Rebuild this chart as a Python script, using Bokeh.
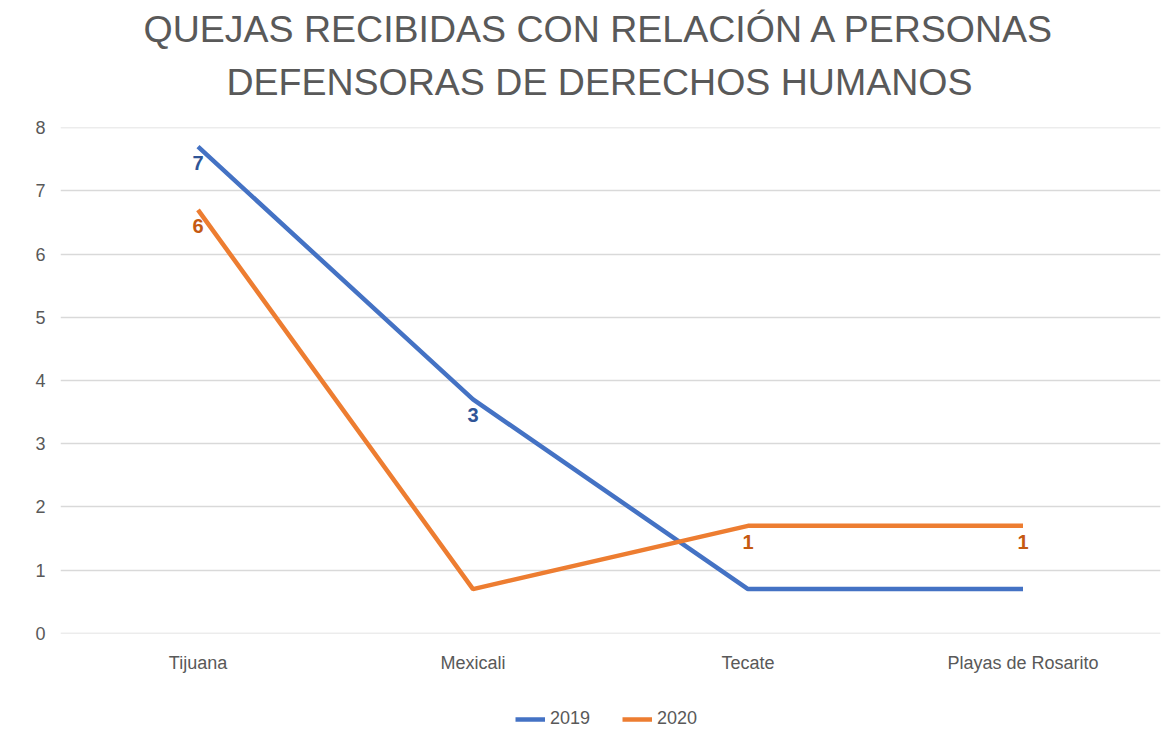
from bokeh.plotting import figure
from bokeh.models import ColumnDataSource, Legend, LegendItem, Range1d, FixedTicker, Title
from bokeh.layouts import column
from bokeh.embed import file_html
from bokeh.resources import INLINE
from bokeh.core.properties import value

# Data
categories = ["Tijuana", "Mexicali", "Tecate", "Playas de Rosarito"]
series_2019 = [7.7, 3.7, 0.7, 0.7]
series_2020 = [6.7, 0.7, 1.7, 1.7]
labels_2019 = ["7", "3", "", ""]
labels_2020 = ["6", "", "1", "1"]
series_names = ["2019", "2020"]
y_ticks = [0, 1, 2, 3, 4, 5, 6, 7, 8]
title_line1 = "QUEJAS RECIBIDAS CON RELACIÓN A PERSONAS"
title_line2 = "DEFENSORAS DE DERECHOS HUMANOS"

FONT = "Liberation Sans"
GRAY = "#595959"
BLUE = "#4472C4"
ORANGE = "#ED7D31"

FW, FH = 1100, 506
p = figure(x_range=categories, y_range=Range1d(-0.003, 8.003),
           frame_width=FW, frame_height=FH,
           output_backend="svg", toolbar_location=None,
           min_border_left=60, min_border_right=4, min_border_top=127, min_border_bottom=50)
p.title = None

t2 = Title(text=title_line2, align="left", text_font=FONT, text_font_size="37.5px",
           text_color=GRAY, text_font_style="normal", standoff=50, padding=0,
           text_line_height=1.0, offset=166)
t1 = Title(text=title_line1, align="left", text_font=FONT, text_font_size="37.5px",
           text_color=GRAY, text_font_style="normal", standoff=-32, padding=0,
           text_line_height=1.0, offset=83)
p.add_layout(t2, "above")
p.add_layout(t1, "above")

p.outline_line_color = None
p.background_fill_color = "white"
p.border_fill_color = "white"

src19 = ColumnDataSource(dict(x=categories, y=series_2019, t=labels_2019))
src20 = ColumnDataSource(dict(x=categories, y=series_2020, t=labels_2020))

p.line("x", "y", source=src19, line_color=BLUE, line_width=4.5)
p.line("x", "y", source=src20, line_color=ORANGE, line_width=4.5)

p.text("x", "y", text="t", source=src19, text_align="center", text_baseline="middle",
       y_offset=16, text_font=value(FONT), text_font_size="20px", text_font_style="bold",
       text_color="#2F5597")
p.text("x", "y", text="t", source=src20, text_align="center", text_baseline="middle",
       y_offset=16, text_font=value(FONT), text_font_size="20px", text_font_style="bold",
       text_color="#C55A11")

p.yaxis.ticker = FixedTicker(ticks=y_ticks)
for ax in (p.xaxis[0], p.yaxis[0]):
    ax.axis_line_color = None
    ax.major_tick_line_color = None
    ax.minor_tick_line_color = None
    ax.major_label_text_font = FONT
    ax.major_label_text_font_size = "18px"
    ax.major_label_text_color = GRAY
p.yaxis.major_label_standoff = 9
p.xaxis.major_label_standoff = 13

p.xgrid.grid_line_color = None
p.ygrid.grid_line_color = "#D9D9D9"
p.ygrid.grid_line_width = 1.3

# Legend strip below the chart (legend-only renderers hold no visible points)
lg = figure(width=1164, height=66, output_backend="svg", toolbar_location=None,
            x_axis_type=None, y_axis_type=None, min_border=0,
            x_range=Range1d(0, 1), y_range=Range1d(0, 1))
lg.outline_line_color = None
lg.xgrid.grid_line_color = None
lg.ygrid.grid_line_color = None
lg.title = None
nan = float("nan")
e19 = lg.line([nan], [nan], line_color=BLUE, line_width=4.5)
e20 = lg.line([nan], [nan], line_color=ORANGE, line_width=4.5)
legend = Legend(items=[LegendItem(label=series_names[0], renderers=[e19]),
                       LegendItem(label=series_names[1], renderers=[e20])],
                orientation="horizontal", location=(455, 20),
                label_text_font=FONT, label_text_font_size="18px", label_text_color=GRAY,
                border_line_color=None, background_fill_alpha=0,
                glyph_width=30, spacing=32, label_standoff=5, margin=0, padding=10)
lg.add_layout(legend, "center")

open("out.html", "w").write(file_html(column(p, lg, spacing=0), INLINE))
